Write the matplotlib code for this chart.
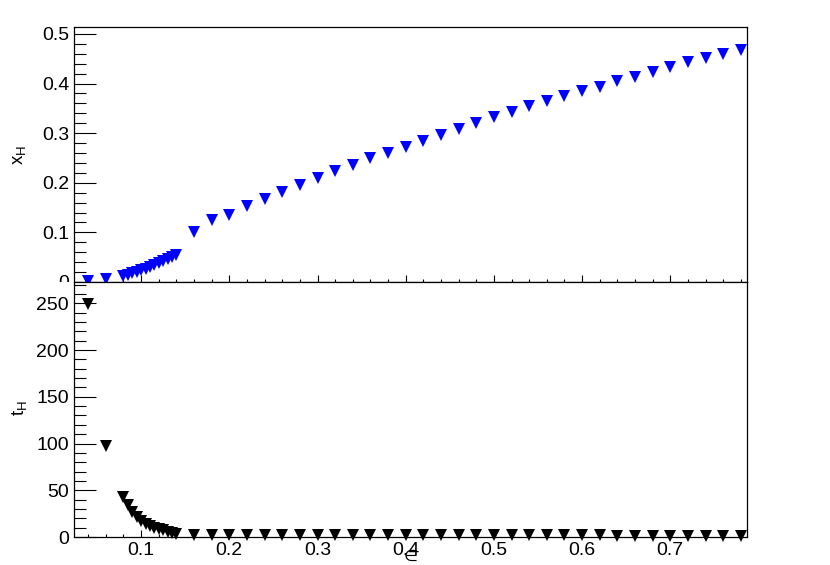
import matplotlib
matplotlib.use("Agg")
import matplotlib.pyplot as plt
from matplotlib.ticker import MultipleLocator
from matplotlib.patches import Rectangle

plt.rcParams['font.family'] = ['Liberation Sans', 'DejaVu Sans']
plt.rcParams['mathtext.fontset'] = 'custom'
plt.rcParams['mathtext.rm'] = 'Liberation Sans'
plt.rcParams['mathtext.it'] = 'Liberation Sans'

# ---- data ----
eps = [0.04, 0.06, 0.08, 0.085, 0.09, 0.095, 0.10, 0.105, 0.11, 0.115, 0.12,
       0.125, 0.13, 0.135, 0.14, 0.16, 0.18, 0.20, 0.22, 0.24, 0.26, 0.28,
       0.30, 0.32, 0.34, 0.36, 0.38, 0.40, 0.42, 0.44, 0.46, 0.48, 0.50,
       0.52, 0.54, 0.56, 0.58, 0.60, 0.62, 0.64, 0.66, 0.68, 0.70, 0.72,
       0.74, 0.76, 0.78]
x_H = [0.002, 0.006, 0.012, 0.015, 0.018, 0.021, 0.024, 0.027, 0.031, 0.034,
       0.038, 0.042, 0.046, 0.050, 0.054, 0.101, 0.124, 0.136, 0.153, 0.168,
       0.182, 0.196, 0.210, 0.223, 0.236, 0.249, 0.261, 0.273, 0.285, 0.297,
       0.309, 0.321, 0.332, 0.343, 0.354, 0.364, 0.374, 0.385, 0.394, 0.405,
       0.414, 0.424, 0.433, 0.443, 0.451, 0.459, 0.468]
t_H = [249, 97, 43, 34, 27, 21.5, 17, 14, 11.5, 10, 8.5, 7, 5.5, 4.5, 3.6,
       2.4, 2.3, 2.2, 2.2, 2.1, 2.1, 2.0, 2.0, 2.0, 1.9, 1.9, 1.9, 1.9, 1.8,
       1.8, 1.8, 1.8, 1.8, 1.7, 1.7, 1.7, 1.7, 1.7, 1.7, 1.6, 1.6, 1.6, 1.6,
       1.6, 1.6, 1.6, 1.6]

W, H = 830, 565
fig = plt.figure(figsize=(W / 100, H / 100), dpi=100)

def fx(p):
    return p / W

def fy(p):
    return 1 - p / H

left, right = 74, 747
top1, mid, bot2 = 27, 282, 537
ax1 = fig.add_axes([fx(left), fy(mid), fx(right - left), (mid - top1) / H])
ax2 = fig.add_axes([fx(left), fy(bot2), fx(right - left), (bot2 - mid) / H])

xlim = (0.0239, 0.787)
ms = 9.3

ax1.plot(eps, x_H, linestyle='none', marker='v', color='#0000ff', ms=ms,
         mew=0, clip_on=False, zorder=3)
ax2.plot(eps, t_H, linestyle='none', marker='v', color='black', ms=ms,
         mew=0, clip_on=False, zorder=3)

# cover the region of the lower pad (as ROOT pad does)
ax2.add_patch(Rectangle((0, 0), fx(left), fy(mid), transform=fig.transFigure,
                        facecolor='white', edgecolor='none', clip_on=False,
                        zorder=0))

ax1.set_xlim(*xlim)
ax2.set_xlim(*xlim)
ax1.set_ylim(0, 0.514)
ax2.set_ylim(0, 272.8)

for ax in (ax1, ax2):
    ax.xaxis.set_major_locator(MultipleLocator(0.1))
    ax.xaxis.set_minor_locator(MultipleLocator(0.02))
    ax.tick_params(axis='x', which='major', direction='in', length=5,
                   width=0.8, labelsize=14, pad=3.6, top=False)
    ax.tick_params(axis='x', which='minor', direction='in', length=2.5,
                   width=0.8, top=False)
    ax.tick_params(axis='y', which='major', direction='in', length=15.8,
                   width=0.8, labelsize=14, pad=3.6, right=False)
    ax.tick_params(axis='y', which='minor', direction='in', length=8.6,
                   width=0.8, right=False)
    for s in ax.spines.values():
        s.set_linewidth(0.9)
        s.set_color('black')

ax1.yaxis.set_major_locator(MultipleLocator(0.1))
ax1.yaxis.set_minor_locator(MultipleLocator(0.02))
ax1.set_yticks([0, 0.1, 0.2, 0.3, 0.4, 0.5])
ax1.set_yticklabels(['0', '0.1', '0.2', '0.3', '0.4', '0.5'])
ax1.tick_params(axis='x', labelbottom=False)

ax2.yaxis.set_major_locator(MultipleLocator(50))
ax2.yaxis.set_minor_locator(MultipleLocator(10))
ax2.set_xticks([0.1, 0.2, 0.3, 0.4, 0.5, 0.6, 0.7])
ax2.set_xticklabels(['0.1', '0.2', '0.3', '0.4', '0.5', '0.6', '0.7'])

fig.text(fx(19), fy(155), r'$\mathregular{x_{H}}$', rotation=90,
         ha='center', va='center', fontsize=13.5)
fig.text(fx(19.5), fy(408), r'$\mathregular{t_{H}}$', rotation=90,
         ha='center', va='center', fontsize=13.5)
fig.text(fx(411), fy(556), '∈', ha='center', va='center', fontsize=11.5,
         family=['DejaVu Sans'])

fig.savefig('out.png', dpi=100)
